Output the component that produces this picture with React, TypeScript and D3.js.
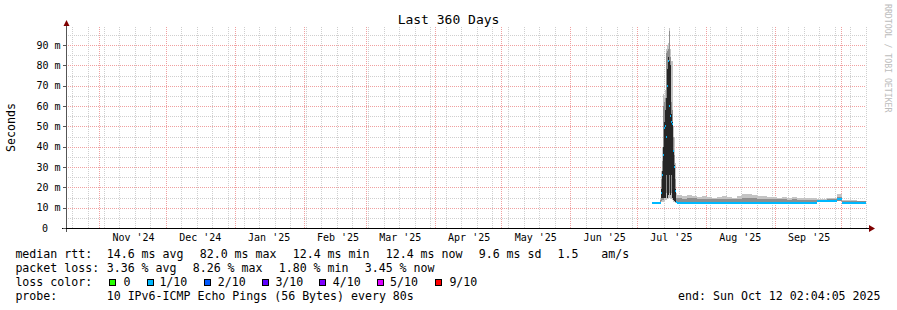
import React from "react";
import * as d3 from "d3";

// ---------- chart meta ----------
const TITLE = "Last 360 Days";
const Y_LABEL = "Seconds";
const WATERMARK = "RRDTOOL / TOBI OETIKER";
const END_TIME = "2025-10-12T02:04:05Z";
const SPAN_DAYS = 360;
const STEP_SECONDS = 38880; // one consolidated RRA step
const Y_MAX_MS = 98.9;

const yMajorTicks = [0, 10, 20, 30, 40, 50, 60, 70, 80, 90];
const yMinorTicks = [5, 15, 25, 35, 45, 55, 65, 75, 85, 95];

// ---------- fine samples (one step each) ----------
const fineStart = "2025-07-07T18:52:05Z";
const fineMedian = [12.4, 12.4, 12.3, 12.1, 12.1, 12.1, 12.1, 12.2, 12.5, 17, 26, 36, 49, 50, 45, 70, 82, 60, 55, 52, 51, 38, 30, 18, 12.8];
const fineMin = [12.2, 12.2, 12.1, 12.0, 12.0, 12.0, 12.0, 12.0, 12.2, 13, 13, 13, 13.5, 14, 14, 14.5, 15, 15, 15, 14.5, 14, 13, 13, 12.5, 12.3];
const fineMax = [12.8, 12.7, 12.6, 12.5, 12.5, 12.5, 12.5, 12.8, 15, 28, 40, 66, 64, 68, 88, 90, 91, 98.5, 88, 82, 82, 50, 45, 32, 17];
const fineLo = [12.3, 12.3, 12.2, 12.0, 12.0, 12.0, 12.0, 12.1, 12.3, 13.5, 14, 14, 15, 15, 17, 18, 20, 17, 18, 17, 16, 14, 13.5, 13, 12.5];
const fineHi = [12.6, 12.6, 12.5, 12.3, 12.3, 12.3, 12.3, 12.5, 14, 24, 33, 60, 62, 64, 86, 87, 88, 97, 84, 62, 58, 45, 36, 24, 15];
const fineCoreLo = [12.4, 12.4, 12.3, 12.1, 12.1, 12.1, 12.1, 12.2, 12.5, 15, 15, 15, 15, 15, 26, 15, 16, 26, 16, 26, 15, 14, 13.5, 13, 12.8];
const fineCoreHi = [12.4, 12.4, 12.3, 12.1, 12.1, 12.1, 12.1, 12.2, 12.5, 19, 28, 40, 52, 58, 64, 78, 84, 82, 80, 56, 52, 38, 31, 19, 13.5];

// ---------- coarse samples (five steps each) ----------
const coarseStart = "2025-07-19T00:52:05Z";
const COARSE_STEP_SECONDS = 194400;
const coarseMedian = [12.5, 12.5, 12.5, 12.5, 12.4, 12.5, 12.5, 12.4, 12.5, 12.5, 12.4, 12.4, 12.5, 12.4, 12.5, 12.4, 12.4, 12.5, 12.4, 12.4, 12.4, 12.4, 12.4, 12.4, 12.4, 12.4, 12.4, 12.4, 13.2, 13.2, 13.3, 13.3, 14.2, 12.5, 12.5, 12.5, 12.5, 12.5];
const coarseMin = [12.2, 12.2, 12.2, 12.2, 12.1, 12.2, 12.2, 12.1, 12.2, 12.2, 12.1, 12.1, 12.2, 12.1, 12.2, 12.1, 12.1, 12.2, 12.1, 12.1, 12.1, 12.1, 12.1, 12.1, 12.1, 12.1, 12.1, 12.1, 12.8, 12.8, 12.9, 12.9, 13.4, 12.2, 12.2, 12.2, 12.2, 12.2];
const coarseMax = [16.0, 15.6, 16.2, 15.8, 15.2, 15.6, 15.4, 15.0, 15.2, 15.5, 15.2, 15.0, 15.8, 16.5, 16.8, 16.0, 15.5, 15.8, 15.4, 15.2, 15.0, 15.3, 14.9, 15.1, 14.9, 14.7, 14.9, 14.6, 14.4, 14.5, 14.6, 14.8, 16.5, 13.8, 13.6, 13.6, 13.5, 13.4];
const coarseHi = [14.6, 14.5, 14.8, 14.6, 14.3, 14.5, 14.4, 14.2, 14.3, 14.5, 14.3, 14.2, 14.5, 14.8, 15.0, 14.7, 14.4, 14.5, 14.3, 14.2, 14.1, 14.2, 14.0, 14.1, 14.0, 13.9, 14.0, 13.9, 14.0, 14.0, 14.1, 14.2, 15.2, 13.3, 13.2, 13.2, 13.1, 13.1];

// ---------- legend ----------
const lossLabels = ["0", "1/10", "2/10", "3/10", "4/10", "5/10", "9/10"];
const lossColors = ["#26ff00", "#00b8ff", "#0059ff", "#5e00ff", "#7e00ff", "#dd00ff", "#ff0000"];
const medianRttItems = ["median rtt:", "14.6 ms avg", "82.0 ms max", "12.4 ms min", "12.4 ms now", "9.6 ms sd", "1.5", "am/s"];
const packetLossItems = ["packet loss:", "3.36 % avg", "8.26 % max", "1.80 % min", "3.45 % now"];
const probeItems = ["probe:", "10 IPv6-ICMP Echo Pings (56 Bytes) every 80s"];
const endLabel = "end: Sun Oct 12 02:04:05 2025";
const lossColorLabel = "loss color:";

// layout (positions & styles)
const FONT = "DejaVu Sans Mono";
const medianRttX = [15.4, 106.7, 199.7, 292.7, 385.7, 478.7, 557.5, 601.2];
const packetLossX = [15.4, 106.7, 192.7, 278.7, 364.7];
const lossBoxX = [109, 146.7, 204, 261.7, 319.3, 376.7, 435];
const lossTextX = [123.4, 159.4, 217.7, 275.4, 332.7, 390.1, 449.4];

type Sample = { t0: Date; t1: Date; med: number; min: number; max: number; lo: number; hi: number; cLo: number; cHi: number };

export default function App() {
  const end = new Date(END_TIME);
  const start = new Date(end.getTime() - SPAN_DAYS * 86400000);
  const x = d3.scaleUtc().domain([start, end]).range([66, 866]);
  const y = d3.scaleLinear().domain([0, Y_MAX_MS]).range([228, 27]);
  const px = (v: number) => Math.round(v) + 0.5;

  const fT0 = new Date(fineStart).getTime();
  const cT0 = new Date(coarseStart).getTime();
  const samples: Sample[] = [
    ...fineMedian.map((m, i) => ({
      t0: new Date(fT0 + i * STEP_SECONDS * 1000),
      t1: new Date(fT0 + (i + 1) * STEP_SECONDS * 1000),
      med: m, min: fineMin[i], max: fineMax[i], lo: fineLo[i], hi: fineHi[i], cLo: fineCoreLo[i], cHi: fineCoreHi[i],
    })),
    ...coarseMedian.map((m, i) => ({
      t0: new Date(cT0 + i * COARSE_STEP_SECONDS * 1000),
      t1: new Date(Math.min(cT0 + (i + 1) * COARSE_STEP_SECONDS * 1000, end.getTime())),
      med: m, min: coarseMin[i], max: coarseMax[i], lo: coarseMin[i], hi: coarseHi[i], cLo: m, cHi: m,
    })),
  ];

  const months = d3.utcMonth.range(d3.utcMonth.ceil(start), end);
  const weeks = d3.utcSunday.range(d3.utcSunday.ceil(start), end);
  const labelMonths = d3.utcMonth
    .range(d3.utcMonth.floor(start), end)
    .map((m) => ({ m, c: new Date(m.getTime() + 15.5 * 86400000) }))
    .filter((d) => d.c > start && d.c < end);
  const fmt = d3.utcFormat("%b '%y");

  const x0 = x.range()[0];
  const x1 = x.range()[1];
  const yTop = y.range()[1];
  const yBot = y.range()[0];

  const band = (s: Sample, a: number, b: number) => {
    const xa = Math.round(x(s.t0));
    const xb = Math.round(x(s.t1));
    const ya = Math.round(y(b));
    const yb = Math.round(y(a));
    return { x: xa, y: ya, width: Math.max(1, xb - xa), height: Math.max(0, yb - ya) };
  };

  return (
    <svg
      width={897}
      height={310}
      style={{ position: "absolute", left: 0, top: 0, display: "block" }}
      fontFamily={FONT}
    >
      <rect x={0} y={0} width={897} height={310} fill="#ffffff" />

      {/* minor grid */}
      <g stroke="#cfcfcf" strokeWidth={1} strokeDasharray="1,1" shapeRendering="crispEdges">
        {weeks.map((w, i) => (
          <line key={"w" + i} x1={px(x(w))} x2={px(x(w))} y1={yTop} y2={yBot} />
        ))}
        {yMinorTicks.map((v) => (
          <line key={"ym" + v} x1={x0} x2={x1} y1={px(y(v))} y2={px(y(v))} />
        ))}
      </g>
      {/* major grid */}
      <g stroke="#f0a0a0" strokeWidth={1} strokeDasharray="1,1" shapeRendering="crispEdges">
        {months.map((m, i) => (
          <line key={"m" + i} x1={px(x(m))} x2={px(x(m))} y1={yTop} y2={yBot} />
        ))}
        {yMajorTicks.filter((v) => v > 0).map((v) => (
          <line key={"yM" + v} x1={x0} x2={x1} y1={px(y(v))} y2={px(y(v))} />
        ))}
      </g>

      {/* smoke */}
      <g shapeRendering="crispEdges">
        {samples.map((s, i) => (
          <rect key={"o" + i} {...band(s, s.min, s.max)} fill="#c4c4c4" />
        ))}
        {samples.map((s, i) => (
          <rect key={"h" + i} {...band(s, s.lo, s.hi)} fill="#8e8e8e" />
        ))}
        {samples.filter((s) => s.cHi > s.cLo).map((s, i) => (
          <rect key={"c" + i} {...band(s, s.cLo, s.cHi)} fill="#262626" />
        ))}
        {/* median colored by loss bucket 1/10 */}
        {samples.map((s, i) => {
          const xa = Math.round(x(s.t0));
          const xb = Math.round(x(s.t1));
          return <rect key={"md" + i} x={xa} y={Math.round(y(s.med)) - 1} width={Math.max(1, xb - xa)} height={2} fill={lossColors[1]} />;
        })}
      </g>

      {/* axes */}
      <g shapeRendering="crispEdges">
        <line x1={66.5} x2={66.5} y1={232} y2={22} stroke="#555" />
        <line x1={62} x2={870} y1={228.5} y2={228.5} stroke="#000" />
        {yMajorTicks.map((v) => (
          <line key={"t" + v} x1={63} x2={66} y1={px(y(v))} y2={px(y(v))} stroke="#555" />
        ))}
      </g>
      <path d="M63.5,26 L69.5,26 L66.5,20 Z" fill="#7f0000" />
      <path d="M869,225 L869,232 L875,228.5 Z" fill="#7f0000" />

      {/* y labels */}
      <g fontSize={10} fill="#000">
        {yMajorTicks.map((v) => (
          <text key={"yl" + v} x={v === 0 ? 48 : 60.5} y={y(v) + 3.7} textAnchor="end">
            {v === 0 ? "0" : `${v} m`}
          </text>
        ))}
      </g>
      {/* x labels */}
      <g fontSize={10} fill="#000">
        {labelMonths.map((d, i) => (
          <text key={"xl" + i} x={x(d.c)} y={241} textAnchor="middle">
            {fmt(d.m)}
          </text>
        ))}
      </g>

      {/* title & axis title */}
      <text x={448.5} y={23.5} fontSize={13} textAnchor="middle" fill="#000">
        {TITLE}
      </text>
      <text transform="translate(15,127.5) rotate(-90)" fontSize={11.6} textAnchor="middle" fill="#000">
        {Y_LABEL}
      </text>
      <text transform="translate(885,4) rotate(90)" fontSize={8.2} fill="#bcbcbc">
        {WATERMARK}
      </text>

      {/* legend */}
      <g fontSize={11.6} fill="#000" style={{ whiteSpace: "pre" }}>
        {medianRttItems.map((t, i) => (
          <text key={"mr" + i} x={medianRttX[i]} y={258.3}>{t}</text>
        ))}
        {packetLossItems.map((t, i) => (
          <text key={"pl" + i} x={packetLossX[i]} y={272.2}>{t}</text>
        ))}
        <text x={15.4} y={286.2}>{lossColorLabel}</text>
        {lossLabels.map((t, i) => (
          <g key={"lc" + i}>
            <rect x={lossBoxX[i] + 0.5} y={279.5} width={6} height={6} fill={lossColors[i]} stroke="#000" strokeWidth={1} shapeRendering="crispEdges" />
            <text x={lossTextX[i]} y={286.2}>{t}</text>
          </g>
        ))}
        <text x={15.4} y={300.2}>{probeItems[0]}</text>
        <text x={106.7} y={300.2}>{probeItems[1]}</text>
        <text x={880.5} y={300.2} textAnchor="end">{endLabel}</text>
      </g>
    </svg>
  );
}
